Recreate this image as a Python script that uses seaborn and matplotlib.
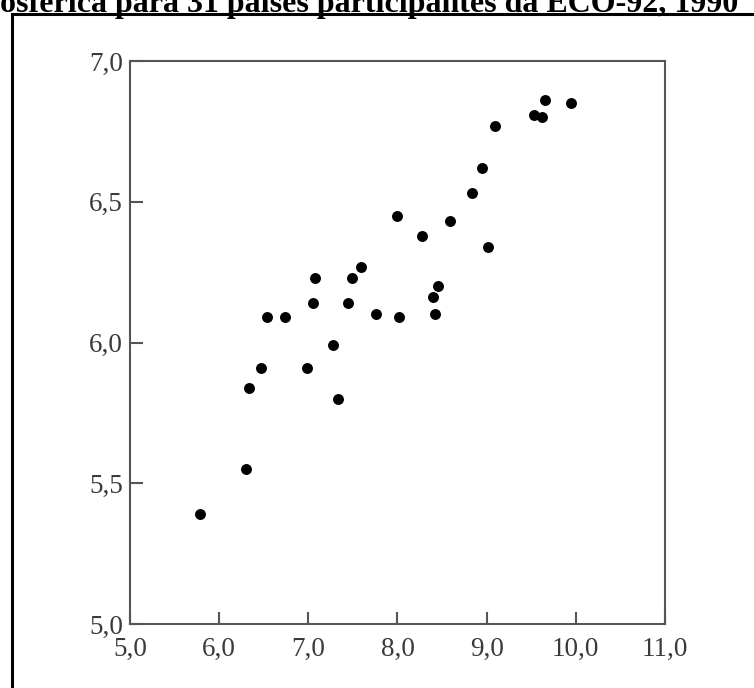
import matplotlib
matplotlib.use("Agg")
import matplotlib.pyplot as plt
import seaborn as sns
import pandas as pd
from matplotlib.patches import Rectangle

# values (30 countries visible)
x_vals = [5.78, 6.30, 6.34, 6.47, 6.54, 6.74, 6.98, 7.05, 7.07, 7.28,
          7.33, 7.45, 7.49, 7.59, 7.76, 8.00, 8.02, 8.28, 8.40, 8.42,
          8.45, 8.59, 8.84, 8.95, 9.02, 9.09, 9.53, 9.62, 9.66, 9.95]
y_vals = [5.39, 5.55, 5.84, 5.91, 6.09, 6.09, 5.91, 6.14, 6.23, 5.99,
          5.80, 6.14, 6.23, 6.27, 6.10, 6.45, 6.09, 6.38, 6.16, 6.10,
          6.20, 6.43, 6.53, 6.62, 6.34, 6.77, 6.81, 6.80, 6.86, 6.85]
x_ticks = [5.0, 6.0, 7.0, 8.0, 9.0, 10.0, 11.0]
y_ticks = [5.0, 5.5, 6.0, 6.5, 7.0]
title = "osférica para 31 países participantes da ECO-92, 1990"

df = pd.DataFrame({"x": x_vals, "y": y_vals})

sns.set_style("white")
plt.rcParams['font.family'] = ['Liberation Serif', 'DejaVu Serif']

fig = plt.figure(figsize=(7.54, 6.88), dpi=100)
ax = fig.add_axes([0.1724, 0.093, 0.7095, 0.8183])

sns.scatterplot(data=df, x="x", y="y", ax=ax, color="black", s=62,
                edgecolor="black", linewidth=0, legend=False)

ax.set_xlim(5, 11)
ax.set_ylim(5, 7)
ax.set_xticks(x_ticks)
ax.set_yticks(y_ticks)
ax.set_xticklabels([f"{v:.1f}".replace(".", ",") for v in x_ticks])
ax.set_yticklabels([f"{v:.1f}".replace(".", ",") for v in y_ticks])
ax.set_xlabel("")
ax.set_ylabel("")

for sp in ax.spines.values():
    sp.set_color("#555555")
    sp.set_linewidth(1.5)
ax.tick_params(axis="both", direction="in", length=9, width=1.5,
               color="#555555", labelsize=19.5, labelcolor="#3a3a3a")
ax.tick_params(axis="x", pad=9, bottom=True, top=False)
ax.tick_params(axis="y", pad=5, left=True, right=False)

# outer frame of the figure box (cut at right and bottom)
fig.patches.append(Rectangle((12 / 754, -0.1), 1.2, 1 - 14 / 688 + 0.1,
                             transform=fig.transFigure, fill=False,
                             edgecolor="black", linewidth=2.2))

# the title is cut by the top edge in the reference
fig.text(738 / 754, 1 - 12 / 688, title, ha="right", va="baseline",
         fontsize=23, fontweight="bold", color="black")

fig.savefig("out.png", dpi=100)
